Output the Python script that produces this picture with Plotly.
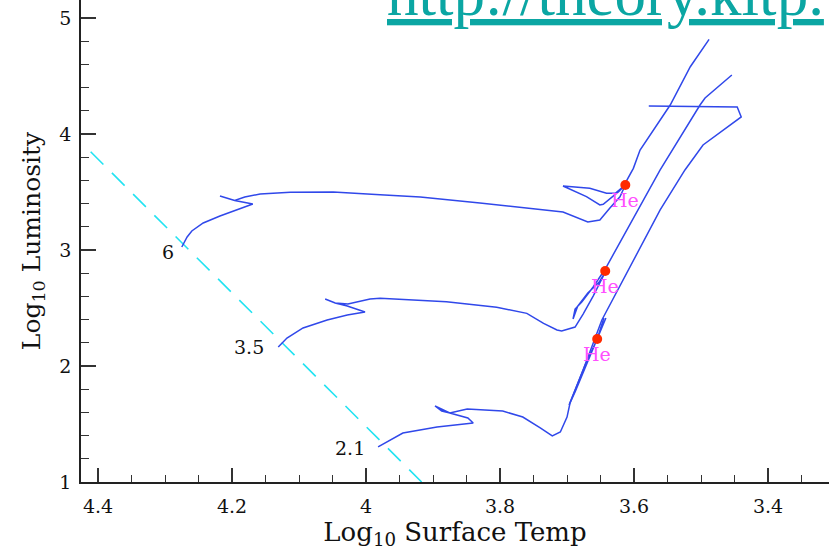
import plotly.graph_objects as go

# ---------------- data (log10 Teff, log10 L) ----------------
track6_T = [4.275, 4.267, 4.260, 4.243, 4.218, 4.169, 4.196, 4.218, 4.196, 4.181, 4.158, 4.113,
            4.049, 3.979, 3.919, 3.830, 3.706, 3.669, 3.651, 3.636, 3.621, 3.613,
            3.623, 3.646, 3.651, 3.671, 3.700, 3.706, 3.666, 3.641, 3.628, 3.616,
            3.601, 3.591, 3.546, 3.534, 3.516, 3.488]
track6_L = [3.026, 3.112, 3.164, 3.233, 3.293, 3.397, 3.427, 3.466, 3.427, 3.457, 3.483, 3.497,
            3.500, 3.476, 3.457, 3.405, 3.328, 3.241, 3.259, 3.362, 3.459, 3.560,
            3.503, 3.394, 3.388, 3.460, 3.541, 3.552, 3.532, 3.489, 3.489, 3.546,
            3.704, 3.862, 4.250, 4.379, 4.580, 4.816]

track35_T = [4.131, 4.118, 4.094, 4.058, 4.028, 4.0015, 4.028, 4.046, 4.061, 4.046, 4.027, 3.994,
             3.979, 3.880, 3.805, 3.760, 3.735, 3.715, 3.708, 3.700, 3.688, 3.676, 3.661, 3.643,
             3.652, 3.669, 3.684, 3.691, 3.688, 3.678, 3.661, 3.643, 3.633, 3.561, 3.5015, 3.494, 3.454]
track35_L = [2.164, 2.241, 2.328, 2.397, 2.440, 2.466, 2.517, 2.543, 2.578, 2.543, 2.534, 2.578,
             2.584, 2.554, 2.506, 2.454, 2.368, 2.310, 2.302, 2.316, 2.336, 2.448, 2.603, 2.810,
             2.724, 2.629, 2.517, 2.405, 2.491, 2.552, 2.681, 2.836, 2.940, 3.690, 4.250, 4.310, 4.509]

track21_T = [3.982, 3.945, 3.894, 3.840, 3.848, 3.875, 3.897, 3.887, 3.875, 3.849, 3.796, 3.766,
             3.740, 3.722, 3.710, 3.700, 3.6955, 3.676, 3.648, 3.609, 3.561, 3.524, 3.497, 3.440,
             3.446, 3.578]
track21_L = [1.302, 1.422, 1.474, 1.509, 1.552, 1.595, 1.655, 1.612, 1.595, 1.629, 1.612, 1.560,
             1.466, 1.397, 1.431, 1.560, 1.681, 1.966, 2.397, 2.828, 3.345, 3.690, 3.905, 4.147,
             4.233, 4.241]

loop21_T = [3.645, 3.655, 3.673, 3.6925, 3.697, 3.688, 3.666, 3.651, 3.642]
loop21_L = [2.414, 2.233, 2.009, 1.724, 1.664, 1.776, 2.086, 2.284, 2.414]

zams_T = [4.411, 3.917]
zams_L = [3.847, 1.000]

he_T = [3.613, 3.643, 3.655]
he_L = [3.560, 2.819, 2.233]
he_label = "He"

mass_labels = ["6", "3.5", "2.1"]
mass_T = [4.2963, 4.1746, 4.0239]
mass_L = [2.987, 2.166, 1.293]

x_tickvals = [4.4, 4.2, 4.0, 3.8, 3.6, 3.4]
x_ticktext = ["4.4", "4.2", "4", "3.8", "3.6", "3.4"]
y_tickvals = [1, 2, 3, 4, 5]
y_ticktext = ["1", "2", "3", "4", "5"]

url_text = "http://theory.kitp."

# ---------------- figure ----------------
LINE = "#3048ea"
SERIF = "DejaVu Serif"

fig = go.Figure()
fig.add_trace(go.Scatter(x=zams_T, y=zams_L, mode="lines",
                         line=dict(color="#22e3f2", width=1.6, dash="18px,12px"),
                         hoverinfo="skip", showlegend=False))
for tx, ty in [(track6_T, track6_L), (track35_T, track35_L), (track21_T, track21_L), (loop21_T, loop21_L)]:
    fig.add_trace(go.Scatter(x=tx, y=ty, mode="lines",
                             line=dict(color=LINE, width=1.5),
                             hoverinfo="skip", showlegend=False))
fig.add_trace(go.Scatter(x=he_T, y=he_L, mode="markers",
                         marker=dict(color="#ff2a00", size=10),
                         hoverinfo="skip", showlegend=False))

annotations = []
for t, l in zip(he_T, he_L):
    annotations.append(dict(x=t, y=l, xref="x", yref="y", text=he_label, showarrow=False,
                            yshift=-15, font=dict(family=SERIF, size=19, color="#ff50ff")))
for txt, t, l in zip(mass_labels, mass_T, mass_L):
    annotations.append(dict(x=t, y=l, xref="x", yref="y", text=txt, showarrow=False,
                            font=dict(family=SERIF, size=19, color="#111111")))
annotations.append(dict(x=0.4065, y=1.0885, xref="paper", yref="paper", xanchor="left", yanchor="top",
                        text="<u>" + url_text + "</u>", showarrow=False,
                        font=dict(family="Liberation Serif", size=63, color="#0ba6a3")))

axis_common = dict(showgrid=False, zeroline=False, showline=True, linecolor="#222222", linewidth=1.5,
                   ticks="inside", tickcolor="#333333", tickwidth=1.5,
                   tickfont=dict(family=SERIF, size=19, color="#111111"))

fig.update_layout(
    width=829, height=553,
    margin=dict(l=81, r=0, t=0, b=71),
    paper_bgcolor="white", plot_bgcolor="white",
    annotations=annotations,
    xaxis=dict(range=[4.4254, 3.309], tickmode="array", tickvals=x_tickvals, ticktext=x_ticktext,
               ticklen=14, ticklabelstandoff=6,
               minor=dict(tickmode="linear", tick0=0, dtick=0.05, ticks="inside", ticklen=7,
                          tickcolor="#333333", tickwidth=1.3),
               title=dict(text="Log<sub>10</sub> Surface Temp", standoff=5,
                          font=dict(family=SERIF, size=26, color="#111111")),
               **axis_common),
    yaxis=dict(range=[1, 5.1552], tickmode="array", tickvals=y_tickvals, ticktext=y_ticktext,
               ticklen=15, ticklabelstandoff=4,
               minor=dict(tickmode="linear", tick0=0, dtick=0.2, ticks="inside", ticklen=8,
                          tickcolor="#333333", tickwidth=1.3),
               title=dict(text="Log<sub>10</sub> Luminosity", standoff=12,
                          font=dict(family=SERIF, size=25, color="#111111")),
               **axis_common),
)

fig.write_html("out.html")
